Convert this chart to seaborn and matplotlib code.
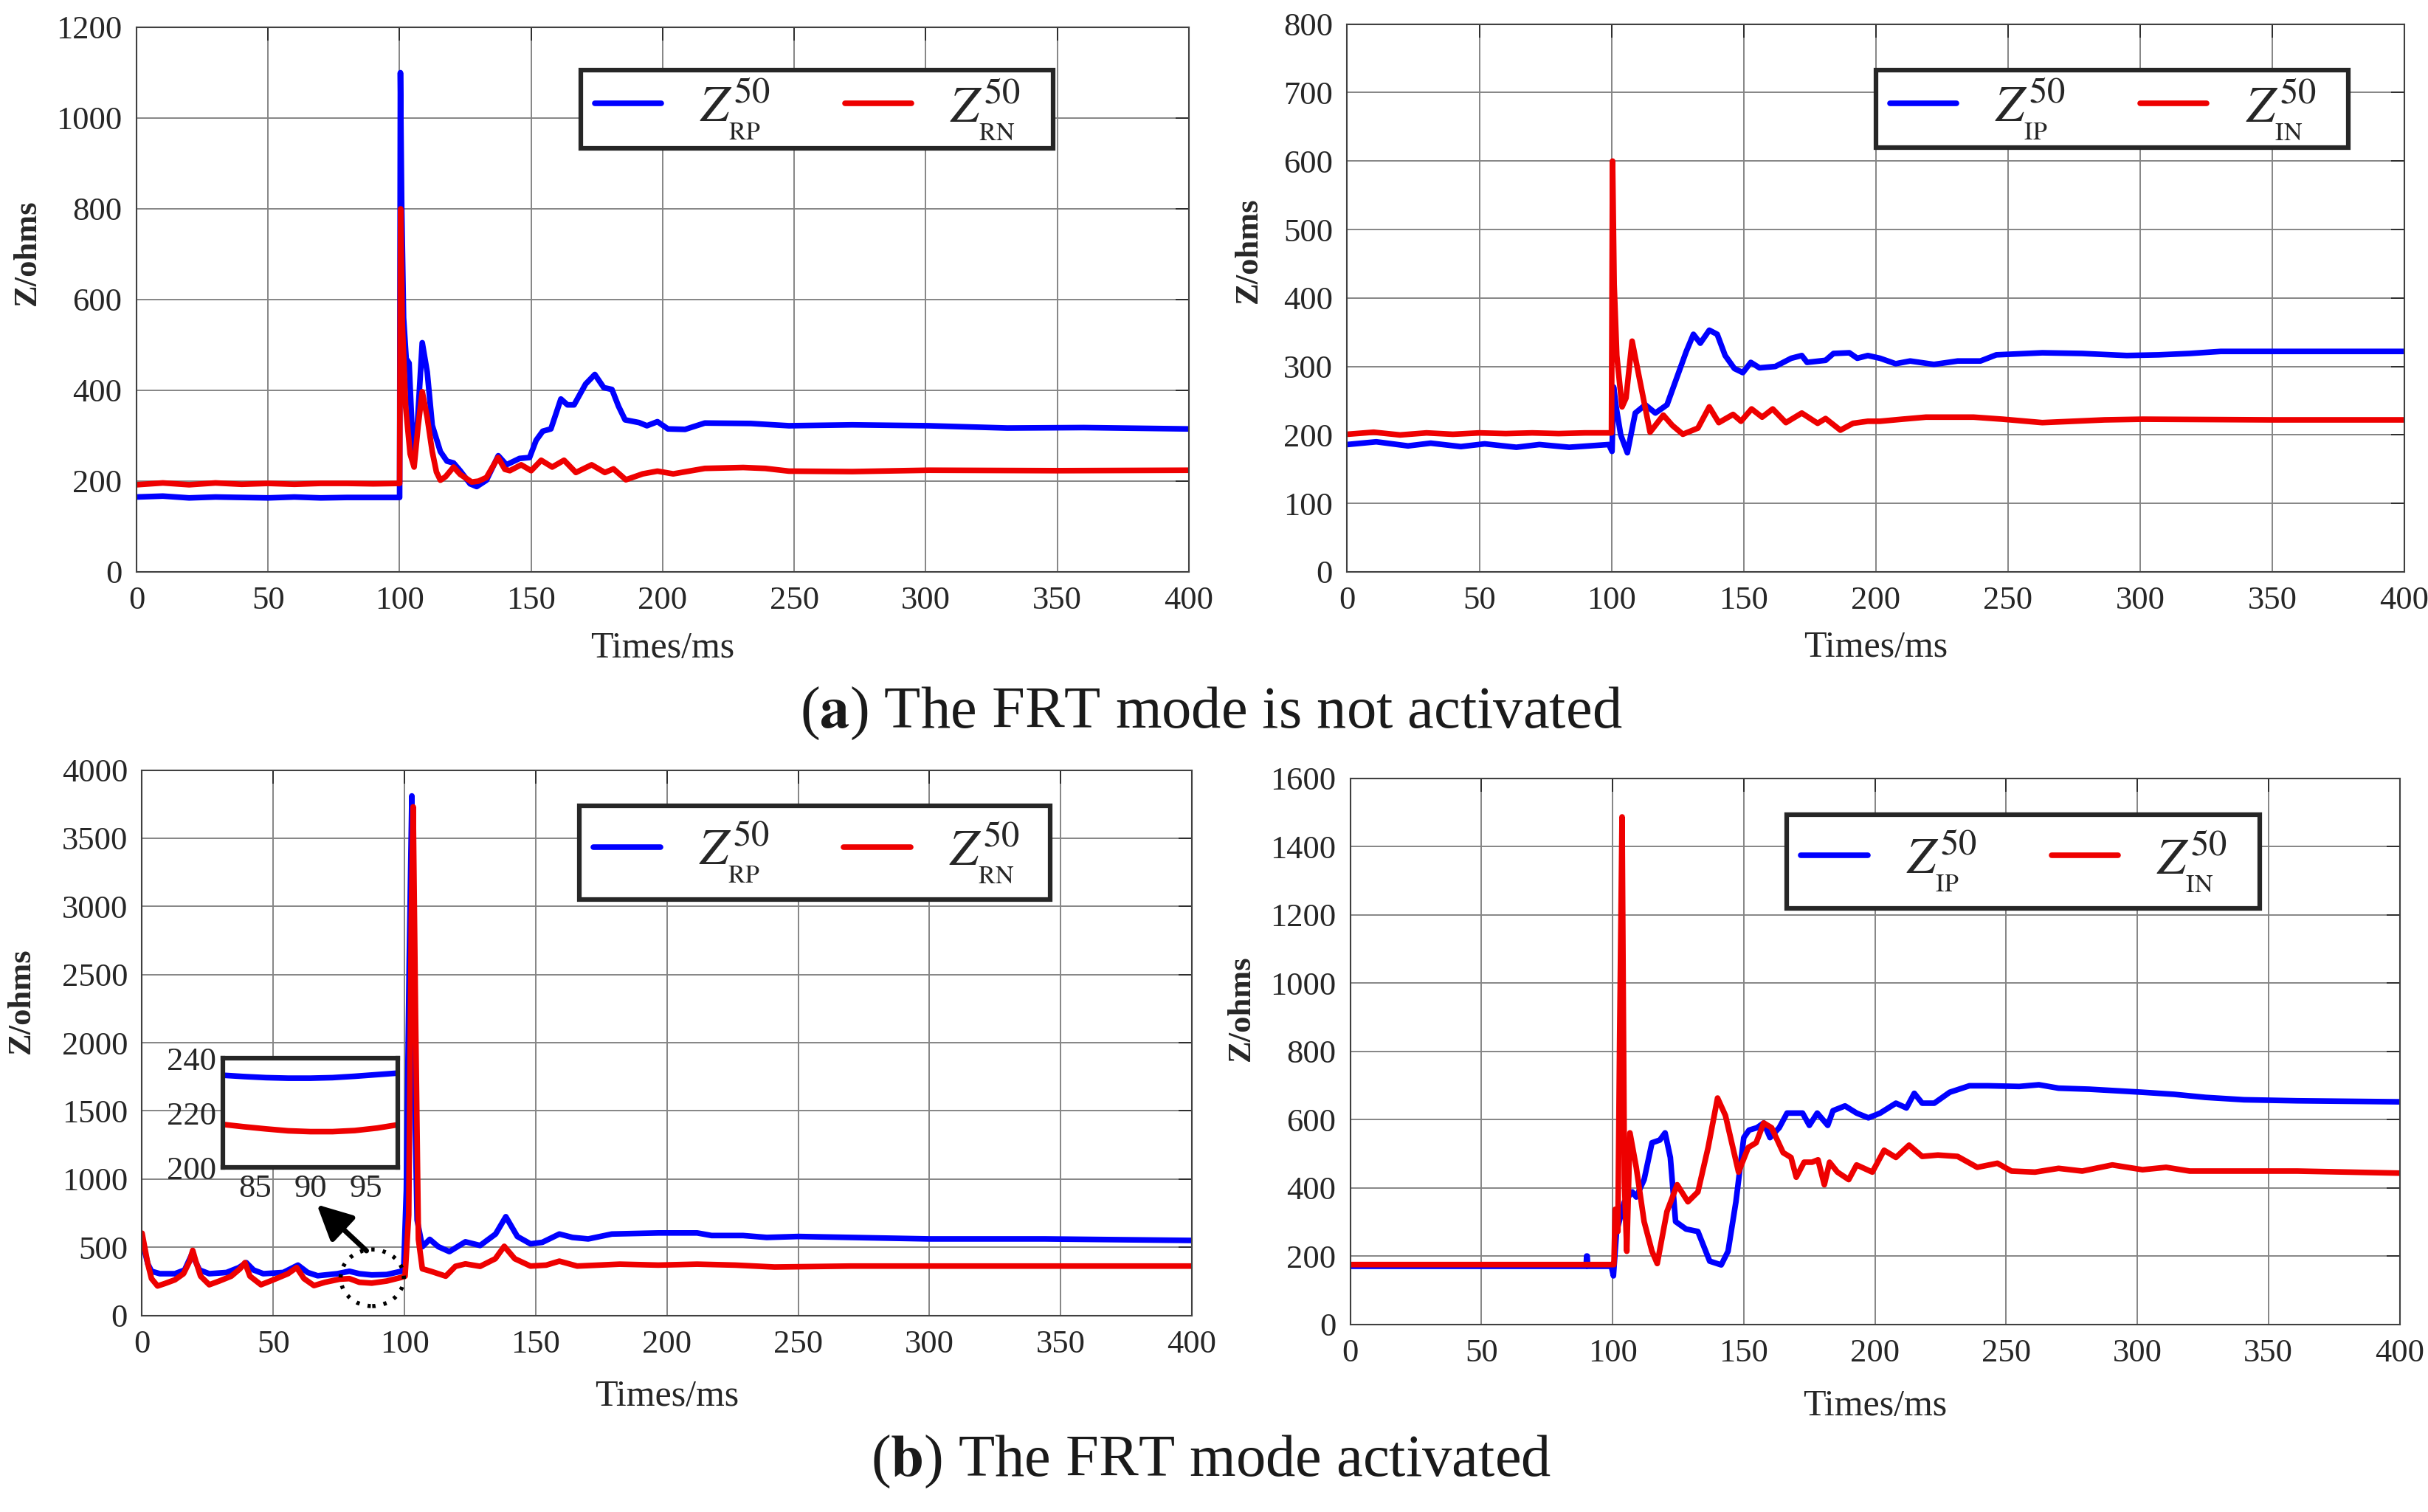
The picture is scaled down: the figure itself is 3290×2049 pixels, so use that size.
import numpy as np
import matplotlib
matplotlib.use('Agg')
import matplotlib.pyplot as plt
from matplotlib.patches import Ellipse, Rectangle
import seaborn as sns

# ---- data ----
# (a) FRT mode not activated, resistive part
t_rp_a = [0, 10, 20, 30, 40, 50, 60, 70, 80, 90, 100, 100.3, 100.8, 101.5, 102.5, 103.6, 105.3, 106.8,
          108.6, 110.5, 112.4, 115.5, 118, 120.5, 123, 126.8, 129.3, 133, 137.5, 140.6, 145.6, 149.4,
          151.9, 154.4, 157.5, 161.3, 163.8, 166.3, 170.7, 174.2, 177.6, 180.7, 183.2, 185.7, 191, 194,
          198, 202, 208.5, 216, 233.5, 248, 272, 301, 331, 360, 400]
z_rp_a = [165, 167, 163, 165, 164, 163, 165, 163, 164, 164, 164, 1100, 800, 560, 470, 460, 240, 330,
          505, 440, 323, 265, 244, 240, 223, 194, 188, 202, 256, 236, 250, 252,
          290, 310, 315, 381, 368, 368, 414, 435, 406, 402, 365, 335, 329, 322,
          331, 315, 314, 328, 327, 322, 324, 322, 317, 318, 315]
t_rn_a = [0, 10, 20, 30, 40, 50, 60, 70, 80, 90, 100, 100.4, 101, 102.3, 104, 105.5, 107, 108.6, 110.5,
          112.4, 114, 115.5, 117.5, 120.5, 123, 127.4, 130, 133, 137.4, 140, 141.9, 146.2, 150, 153.8,
          158, 162.5, 167, 173, 178, 181.3, 186, 192.4, 198, 204, 216, 230.6, 239, 248, 272, 301, 350, 400]
z_rn_a = [192, 196, 192, 196, 193, 195, 193, 195, 195, 194, 195, 800, 550, 364, 260, 231, 320, 397, 340,
          265, 220, 202, 210, 231, 215, 198, 200, 208, 252, 226, 223, 236, 223, 246,
          231, 246, 219, 236, 219, 227, 203, 216, 222, 216, 228, 230, 228, 222, 221, 224, 223, 224]

# (a) imaginary part
t_ip_a = [0, 11, 23, 31.6, 43, 52, 64, 72.7, 84, 99, 100.2, 100.8, 101.8, 103.5, 106, 109, 112.8, 116.6,
          121, 125.4, 128.3, 131, 133.6, 137, 140, 143, 146.5, 149.7, 152.7, 156, 162, 168, 172, 174,
          181, 184, 190, 193, 197, 201.6, 207.5, 213, 222, 231, 239.6, 245.6, 263, 278, 295, 307,
          318.8, 330.5, 360, 400]
z_ip_a = [186, 190, 184, 188, 183, 187, 182, 186, 182, 186, 176, 270, 240, 200, 174, 232, 244, 232,
          244, 291, 322, 347, 334, 353, 347, 316, 297, 291, 306, 298, 300, 312, 316, 306,
          309, 319, 320, 312, 316, 312, 304, 308, 303, 308, 308, 317, 320, 319, 316, 317,
          319, 322, 322, 322]
t_in_a = [0, 10, 20, 30, 40, 50, 60, 70, 80, 90, 100, 100.4, 101, 102, 104, 105.5, 107.8, 110.8, 114.6,
          119.6, 123, 127, 132.7, 137, 140.6, 146, 149, 153, 157, 161, 166, 172, 178, 181, 186.6,
          191.4, 197, 201.6, 210, 219, 237, 248, 263, 286.5, 301, 350, 400]
z_in_a = [201, 204, 200, 203, 201, 203, 202, 203, 202, 203, 203, 600, 420, 316, 241, 254, 337, 278, 204,
          229, 214, 201, 210, 241, 218, 230, 220, 238, 226, 238, 218, 232, 217, 224, 207,
          217, 220, 220, 223, 226, 226, 223, 218, 222, 223, 222, 222]

# (b) FRT mode activated, resistive part
t_rp_b = [0, 2.2, 3.6, 6.8, 12.5, 16.2, 19, 21.9, 25.6, 32.2, 36.9, 39.7, 42.5, 46.2, 53.8, 59.4, 63.1,
          66.9, 74.4, 79, 82.8, 87.5, 93.2, 98.8, 99.7, 100.7, 101.8, 102.8, 103.8, 104.8, 106.8, 109.6,
          112.9, 117.1, 123.2, 128.8, 134.7, 138.6, 143, 148, 152.5, 159, 164, 170, 179, 196.7, 211.5,
          217, 229, 238, 250, 270, 300, 344, 400]
z_rp_b = [549, 378, 324, 306, 306, 333, 450, 333, 306, 315, 351, 387, 333, 306, 315, 369, 315,
          291, 306, 324, 306, 297, 300, 324, 342, 917, 2600, 3810, 1700, 700, 504, 558,
          504, 468, 540, 513, 597, 724, 579, 525, 536, 597, 572, 561, 597, 605, 605,
          586, 586, 572, 579, 572, 561, 561, 550]
t_rn_b = [0, 2.2, 3.6, 5.9, 8.7, 12.5, 15.8, 18.1, 19.3, 20.5, 22.3, 25.6, 29.4, 34, 37.3, 39.2, 41.1,
          45.3, 50, 55.6, 58.9, 61.7, 65.5, 69.7, 75.3, 79, 82.8, 87.5, 93.2, 98.8, 100.2, 101.6, 102.6,
          103.3, 104.2, 105.3, 106.8, 110, 115.7, 119.4, 123.2, 128.8, 134.6, 138, 142, 148, 154, 159,
          165.8, 182, 196.7, 211.5, 226, 241, 270, 300, 400]
z_rn_b = [603, 378, 270, 216, 234, 261, 306, 396, 477, 396, 288, 225, 252, 288, 342, 387, 288,
          225, 261, 306, 351, 270, 219, 243, 266, 270, 243, 237, 252, 279, 288, 737, 2900,
          3730, 2200, 558, 342, 324, 288, 360, 378, 360, 416, 507, 416, 362, 369, 398,
          362, 376, 369, 376, 369, 355, 362, 362, 362]

# zoomed detail 82-98 ms
t_zoom = [82, 84, 86, 88, 90, 92, 94, 96, 98]
z_rp_zoom = [233.9, 233.4, 233.0, 232.8, 232.8, 233.0, 233.5, 234.1, 234.7]
z_rn_zoom = [215.9, 215.0, 214.2, 213.5, 213.2, 213.2, 213.6, 214.5, 215.8]

# (b) imaginary part
t_ip_b = [0, 20, 40, 60, 80, 89.9, 90.1, 90.3, 90.5, 95, 99.5, 100.3, 101.5, 104.5, 107.5, 109, 112, 115,
          118, 120, 122, 124, 128, 132.5, 137, 141.4, 144, 147, 150, 152, 155, 157.6, 160, 163.5, 166.5,
          172.4, 175, 178, 182, 184, 188.6, 193, 197.5, 202, 208, 212, 215, 218, 222.6, 228.5, 236, 243,
          255, 262.5, 270, 281.6, 293, 302, 314, 326, 340.7, 361, 400]
z_ip_b = [170, 170, 170, 170, 170, 170, 200, 200, 170, 170, 170, 142, 272, 359, 388, 373, 424, 532,
          540, 561, 489, 301, 279, 272, 185, 174, 214, 359, 547, 569, 576, 590, 547, 576, 619,
          619, 583, 619, 583, 626, 640, 619, 605, 619, 648, 634, 677, 648, 648, 680, 699, 699,
          697, 702, 692, 689, 684, 680, 674, 665, 658, 655, 652]
t_in_b = [0, 50, 100, 100.5, 101, 102, 102.7, 103.6, 104.5, 105.4, 106.6, 109, 112, 115, 117, 120.7, 124.6,
          128.7, 132.5, 136.4, 140, 143, 148, 151.7, 154.7, 157.6, 160.6, 165, 168, 170, 173, 176, 178.3,
          180.7, 182.7, 185.7, 190, 193, 199, 203.5, 208, 213, 218, 224, 231.5, 239, 246.7, 252, 261,
          270, 279, 290.5, 302, 311, 320, 332, 361, 400]
z_in_b = [175, 175, 175, 175, 337, 272, 851, 1487, 417, 214, 561, 460, 301, 214, 178, 330, 409,
          359, 388, 518, 663, 612, 446, 518, 532, 590, 576, 503, 489, 431, 475, 475, 482,
          409, 475, 446, 424, 467, 446, 510, 489, 525, 492, 496, 492, 460, 472, 449, 446,
          457, 449, 467, 453, 460, 449, 449, 449, 443]

BLUE = '#0000ff'
RED = '#ee0000'
LW = 5.5

sns.set_style('white')
plt.rcParams['font.family'] = ['Liberation Serif', 'DejaVu Serif']
plt.rcParams['mathtext.fontset'] = 'stix'

fig = plt.figure(figsize=(32.9, 20.49), dpi=100)
ax_tl = fig.add_axes([0.05623, 0.62177, 0.43343, 0.36018])
ax_tr = fig.add_axes([0.55486, 0.62177, 0.43541, 0.36227])
ax_bl = fig.add_axes([0.05851, 0.13001, 0.43237, 0.36071])
ax_br = fig.add_axes([0.55614, 0.12416, 0.43216, 0.36105])


def style(ax, ymax, ystep, ylab_x, ylab_y, xlab_y):
    ax.set_xlim(0, 400)
    ax.set_ylim(0, ymax)
    ax.set_xticks(np.arange(0, 401, 50))
    ax.set_yticks(np.arange(0, ymax + 1, ystep))
    ax.grid(True, color='#858585', lw=1.4)
    ax.set_axisbelow(True)
    ax.tick_params(direction='in', length=13, width=1.3, top=True, right=True,
                   labelsize=32, colors='#262626', pad=14)
    for lab in ax.get_xticklabels() + ax.get_yticklabels():
        lab.set_family('Liberation Serif')
    for s in ax.spines.values():
        s.set_color('#404040')
        s.set_linewidth(1.5)
    ax.set_xlabel('Times/ms', fontsize=36, color='#262626')
    ax.set_ylabel('Z/ohms', fontsize=32, fontweight='bold', color='#262626')
    ax.yaxis.set_label_coords(ylab_x, ylab_y)
    ax.xaxis.set_label_coords(0.5, xlab_y)
    ax.xaxis.label.set_va('center')
    ax.yaxis.label.set_va('center')


def draw(ax, t1, z1, lab1, t2, z2, lab2, box, leg_x, leg_y):
    sns.lineplot(x=t1, y=z1, ax=ax, color=BLUE, lw=LW, sort=False, estimator=None, label=lab1)
    sns.lineplot(x=t2, y=z2, ax=ax, color=RED, lw=LW, sort=False, estimator=None, label=lab2)
    # legend frame drawn as its own box, legend entries placed inside
    ax.add_patch(Rectangle(box[:2], box[2], box[3], transform=ax.transAxes, fc='white',
                           ec='#262626', lw=4.5, zorder=4))
    ax.legend(ncol=2, loc='upper left', bbox_to_anchor=(leg_x, leg_y), fontsize=50,
              frameon=False, handlelength=1.3, handletextpad=0.75, columnspacing=1.45,
              borderpad=0.12, borderaxespad=0)


draw(ax_tl, t_rp_a, z_rp_a, r'$Z^{50}_{_{\rm RP}}$', t_rn_a, z_rn_a, r'$Z^{50}_{_{\rm RN}}$',
     (0.422, 0.778, 0.449, 0.143), 0.4297, 0.921)
style(ax_tl, 1200, 200, -0.104, 0.587, -0.14)

draw(ax_tr, t_ip_a, z_ip_a, r'$Z^{50}_{_{\rm IP}}$', t_in_a, z_in_a, r'$Z^{50}_{_{\rm IN}}$',
     (0.500, 0.774, 0.447, 0.142), 0.5077, 0.916)
style(ax_tr, 800, 100, -0.093, 0.587, -0.139)

draw(ax_bl, t_rp_b, z_rp_b, r'$Z^{50}_{_{\rm RP}}$', t_rn_b, z_rn_b, r'$Z^{50}_{_{\rm RN}}$',
     (0.4165, 0.763, 0.4485, 0.171), 0.4242, 0.9198)
style(ax_bl, 4000, 500, -0.115, 0.577, -0.149)

draw(ax_br, t_ip_b, z_ip_b, r'$Z^{50}_{_{\rm IP}}$', t_in_b, z_in_b, r'$Z^{50}_{_{\rm IN}}$',
     (0.416, 0.762, 0.451, 0.172), 0.4237, 0.9198)
style(ax_br, 1600, 200, -0.104, 0.579, -0.15)

# inset with the 82-98 ms detail
axin = ax_bl.inset_axes([0.0768, 0.271, 0.167, 0.2])
sns.lineplot(x=t_zoom, y=z_rp_zoom, ax=axin, color=BLUE, lw=LW, estimator=None)
sns.lineplot(x=t_zoom, y=z_rn_zoom, ax=axin, color=RED, lw=LW, estimator=None)
axin.set_xlim(82.1, 97.9)
axin.set_ylim(200, 240)
axin.set_xticks([85, 90, 95])
axin.set_yticks([200, 220, 240])
axin.set_xlabel('')
axin.set_ylabel('')
axin.set_facecolor('white')
axin.tick_params(direction='in', length=13, width=4, labelsize=32, colors='#262626', pad=6)
for s in axin.spines.values():
    s.set_color('#262626')
    s.set_linewidth(4.5)

ax_bl.add_patch(Ellipse((87.7, 276), width=24.1, height=415, fill=False, ls=(0, (0.8, 2)),
                        lw=4, color='k', zorder=6))
ax_bl.annotate('', xy=(66.6, 813), xytext=(85.5, 474),
               arrowprops=dict(arrowstyle='-|>,head_length=0.9,head_width=0.45', lw=5, color='k',
                               mutation_scale=32, shrinkA=0, shrinkB=0), zorder=7)

fig.text(0.4988, 0.528, r'($\mathbf{a}$) The FRT mode is not activated', ha='center', va='center',
         fontsize=58, color='#1a1a1a')
fig.text(0.4988, 0.0332, r'($\mathbf{b}$) The FRT mode activated', ha='center', va='center',
         fontsize=58, color='#1a1a1a')

fig.savefig('out.png', dpi=100)
